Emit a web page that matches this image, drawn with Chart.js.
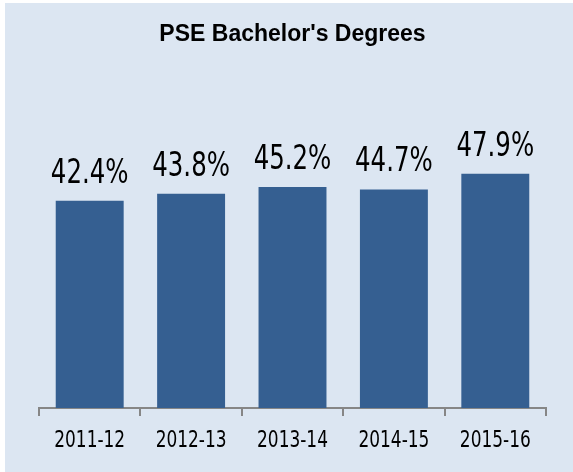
<!DOCTYPE html>
<html>
<head>
<meta charset="utf-8">
<script src="https://cdn.jsdelivr.net/npm/chart.js@4"></script>
<style>
  html, body { margin: 0; padding: 0; background: #ffffff; }
  #wrap { position: absolute; left: 5px; top: 3px; width: 568px; height: 469px; background: #dce6f2; }
</style>
</head>
<body>
<div id="wrap"><canvas id="Grafico" width="568" height="469"></canvas></div>
<script>
const years = ["2011-12", "2012-13", "2013-14", "2014-15", "2015-16"];
const shares = [42.4, 43.8, 45.2, 44.7, 47.9];

const narrow = "'Liberation Sans Narrow', 'DejaVu Sans Condensed', 'Liberation Sans', sans-serif";

// texto estreito: escala horizontal para imitar fonte "narrow"
function narrowText(ctx, text, x, y, size, squeeze) {
  ctx.save();
  ctx.translate(x, y);
  ctx.scale(squeeze, 1);
  ctx.font = size + "px " + narrow;
  ctx.fillStyle = "#000000";
  ctx.textAlign = "center";
  ctx.textBaseline = "alphabetic";
  ctx.fillText(text, 0, 0);
  ctx.restore();
}

// rótulos de valor acima das barras e rótulos do eixo x
const valueLabels = {
  id: "valueLabels",
  afterDatasetsDraw(chart) {
    const ctx = chart.ctx;
    const meta = chart.getDatasetMeta(0);
    const xScale = chart.scales.x;
    meta.data.forEach((bar, i) => {
      narrowText(ctx, shares[i].toFixed(1) + "%", bar.x, bar.y - 18, 34, 0.8);
      narrowText(ctx, years[i], xScale.getPixelForValue(i), xScale.top + 39, 23, 0.82);
    });
  },
};

const chart = new Chart(document.getElementById("Grafico"), {
  type: "bar",
  data: {
    labels: years,
    datasets: [
      {
        label: "PSE Bachelor's Degrees",
        data: shares,
        backgroundColor: "#355f91",
        borderWidth: 0,
        categoryPercentage: 0.67,
        barPercentage: 1,
      },
    ],
  },
  options: {
    responsive: false,
    animation: false,
    layout: { padding: { left: 34, right: 27, top: 0, bottom: 12 } },
    plugins: {
      legend: { display: false },
      tooltip: { enabled: false },
      title: {
        display: true,
        text: "PSE Bachelor's Degrees",
        color: "#000000",
        font: { family: "'Liberation Sans', Arial, sans-serif", size: 23, weight: "bold" },
        padding: { top: 18, bottom: 66 },
      },
    },
    scales: {
      x: {
        grid: {
          display: true,
          drawOnChartArea: false,
          drawTicks: true,
          tickLength: 8,
          color: "#868686",
          lineWidth: 2,
        },
        border: { display: true, color: "#868686", width: 2 },
        ticks: {
          color: "rgba(0,0,0,0)",
          padding: 10,
          font: { family: narrow, size: 20 },
        },
      },
      y: {
        display: false,
        min: 0,
        max: 60,
      },
    },
  },
  plugins: [valueLabels],
});
</script>
</body>
</html>
